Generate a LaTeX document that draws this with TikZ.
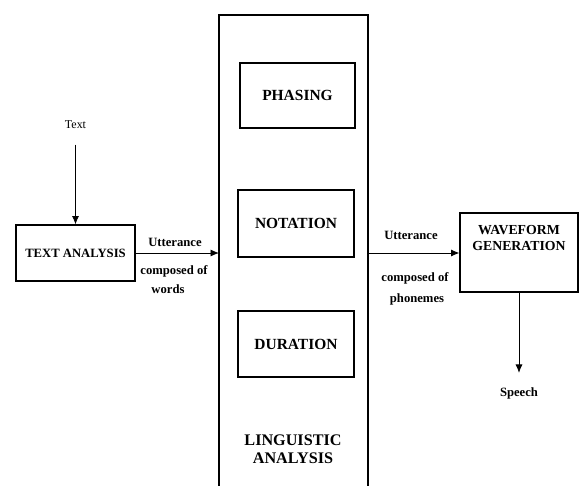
\documentclass[tikz,border=0pt]{standalone}
\usepackage{fontspec}
\setmainfont{Liberation Serif}
\usetikzlibrary{arrows.meta}

\tikzset{
  block/.style={draw, thick, fill=white, inner sep=0pt, font=\bfseries\fontsize{11}{12}\selectfont},
  lbl/.style={font=\bfseries\fontsize{9}{10}\selectfont, inner sep=0pt},
  flow/.style={-{Latex[length=6pt,width=5pt]}, semithick}
}

\begin{document}
\begin{tikzpicture}[x=0.025cm, y=-0.025cm]
    \useasboundingbox (0,0) rectangle (580,486);

    % Define the positions of the open box
    \coordinate (lingTL) at (219,15);
    \coordinate (lingTR) at (368,15);
    \coordinate (lingBL) at (219,486);
    \coordinate (lingBR) at (368,486);
    \coordinate (lingIn) at (219,253);
    \coordinate (lingOut) at (368,253);

    % Draw the boxes
    \draw[thick] (lingBL) -- (lingTL) -- (lingTR) -- (lingBR);
    \node[block, minimum width=84.6pt, minimum height=39.8pt, font=\bfseries\fontsize{9}{10}\selectfont] (textan) at (75.5,253) {TEXT ANALYSIS};
    \node[block, minimum width=81.8pt, minimum height=46.2pt] (phasing) at (297.5,95.5) {PHASING};
    \node[block, minimum width=82.5pt, minimum height=47.7pt] (notation) at (296,223.5) {NOTATION};
    \node[block, minimum width=82.5pt, minimum height=46.9pt] (duration) at (296,344) {DURATION};
    \node[block, minimum width=83.9pt, minimum height=56.2pt] (wave) at (519,252.5) {};
    \node[font=\bfseries\fontsize{9.8}{11}\selectfont, align=center, inner sep=0pt] (wavetext) at (519,238) {WAVEFORM\\GENERATION};
    \node[font=\bfseries\fontsize{11.5}{13}\selectfont, align=center, inner sep=0pt] (lingtext) at (293,449) {LINGUISTIC\\ANALYSIS};

    % Draw the labels
    \node[lbl, font=\fontsize{8.5}{10}\selectfont] (text) at (75.5,125) {Text};
    \node[lbl] (utt1) at (175,242) {Utterance};
    \node[lbl] (comp1) at (174,271) {composed of};
    \node[lbl] (words) at (168,289) {words};
    \node[lbl] (utt2) at (411,235) {Utterance};
    \node[lbl] (comp2) at (415,278) {composed of};
    \node[lbl] (phon) at (417,299) {phonemes};
    \node[lbl] (speech) at (519,393) {Speech};

    % Draw the arrows
    \draw[flow] ([yshift=-11pt]text.south) -- (textan.north);
    \draw[flow] (textan.east) -- (lingIn);
    \draw[flow] (lingOut) -- (lingOut -| wave.west);
    \draw[flow] (wave.south) -- ([yshift=10pt]speech.north);
\end{tikzpicture}
\end{document}
